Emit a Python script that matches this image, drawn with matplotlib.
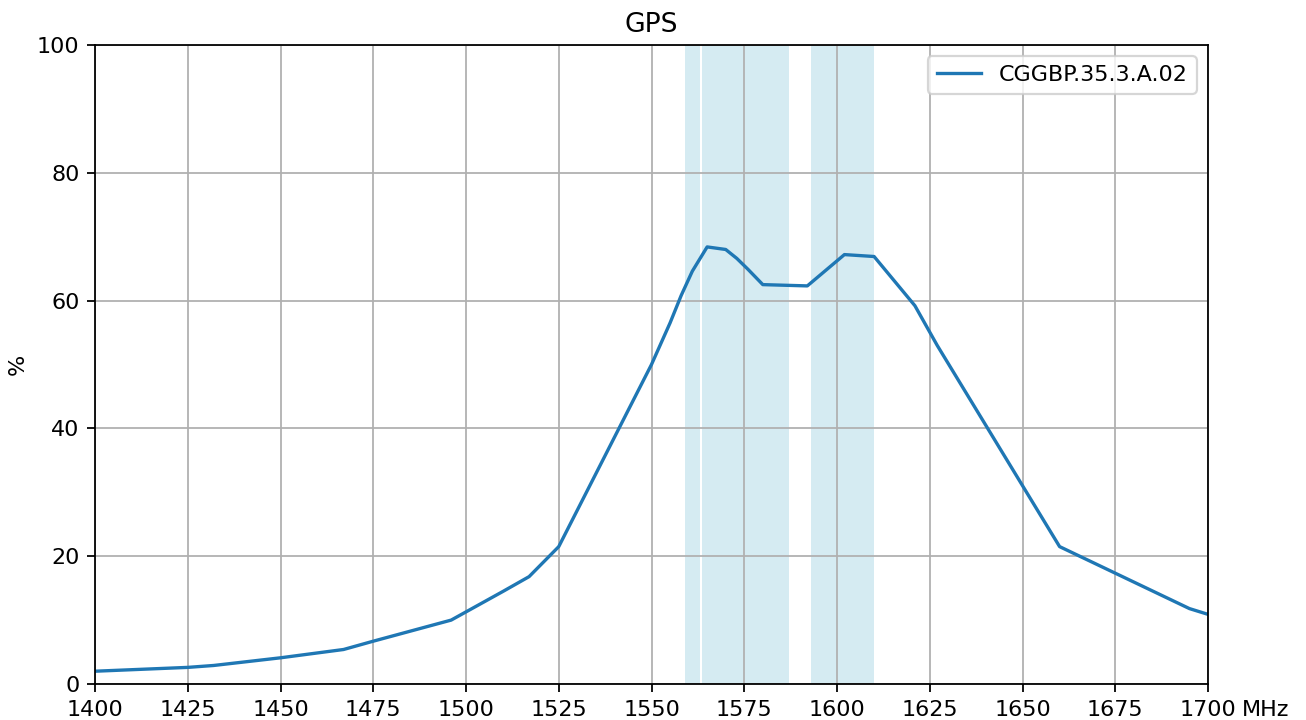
import numpy as np
import matplotlib
matplotlib.use('Agg')
import matplotlib.pyplot as plt

freq = [1400, 1425, 1432, 1450, 1467, 1475, 1496, 1510, 1517, 1525,
        1550, 1555, 1558, 1561, 1565, 1570, 1573, 1576, 1580, 1592,
        1602, 1610, 1621, 1627, 1660, 1695, 1700]
eff = [2.0, 2.6, 2.9, 4.1, 5.4, 6.7, 10.0, 14.5, 16.8, 21.5,
       50.0, 56.5, 60.8, 64.6, 68.4, 68.0, 66.6, 64.9, 62.5, 62.3,
       67.2, 66.9, 59.2, 53.0, 21.5, 11.8, 10.9]
bands = [(1559, 1563), (1563.5, 1587), (1593, 1610)]
label = 'CGGBP.35.3.A.02'

dpi = 160
fig = plt.figure(figsize=(1306/dpi, 720/dpi), dpi=dpi)
ax = fig.add_axes([95/1306, 36/720, 1113/1306, 639/720])

for lo, hi in bands:
    ax.axvspan(lo, hi, color='lightblue', alpha=0.5, lw=0)

ax.plot(freq, eff, color='#1f77b4', lw=1.5, label=label)
ax.set_xlim(1400, 1700)
ax.set_ylim(0, 100)
ax.set_xticks(np.arange(1400, 1701, 25))
ax.set_yticks(np.arange(0, 101, 20))
ax.grid(True, color='#b0b0b0', lw=0.8)
ax.set_title('GPS')
ax.set_ylabel('%')
ax.annotate('MHz', xy=(1, 0), xycoords='axes fraction', xytext=(26, -7),
            textcoords='offset points', ha='center', va='top')
ax.legend(loc='upper right')

fig.savefig('out.png', dpi=dpi)
